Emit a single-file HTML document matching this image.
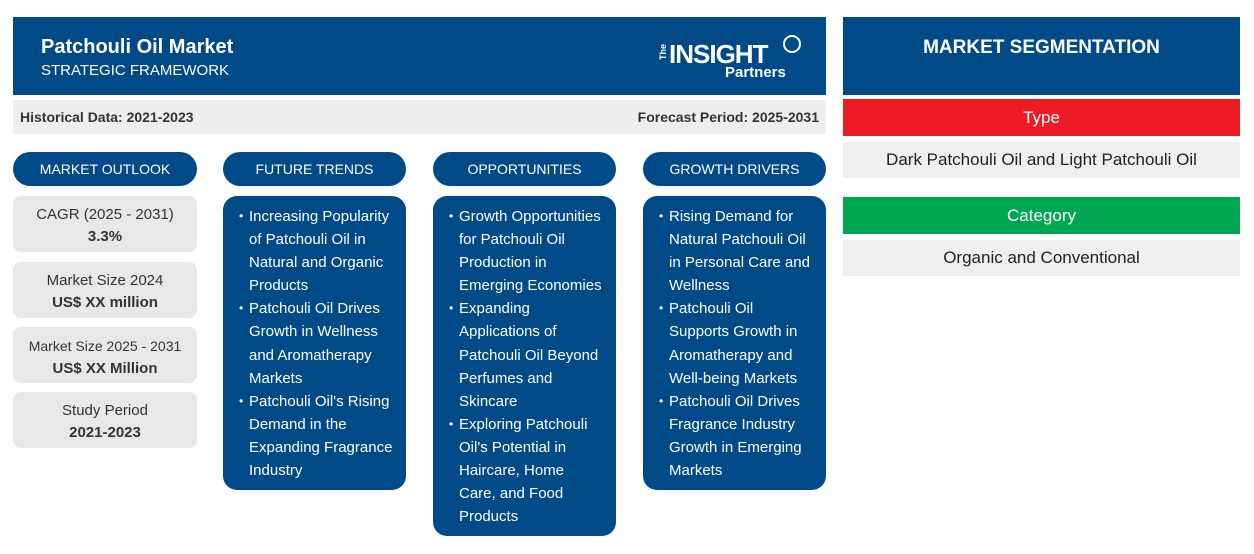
<!DOCTYPE html>
<html><head><style>
body{margin:0;width:1254px;height:554px;background:#fff;font-family:"Liberation Sans",Arial,sans-serif;position:relative;overflow:hidden}
div{position:absolute;box-sizing:border-box}
.nv{background:#004a87;color:#fff}
.pill{top:152px;height:34px;border-radius:17px;text-align:center;line-height:34px;font-size:14px;color:#fff;background:#004a87}
.g{background:#e8e8e8;border-radius:8px;text-align:center;color:#333;font-size:15px;left:13px;width:184px;height:56px;padding-top:8px;line-height:22px}
.g b{font-size:15px}
.bl{background:#004a87;border-radius:14px;color:#fff;font-size:15px;line-height:23.1px;top:196px;padding:9px 12px 0 16px}
.bl ul{margin:0;padding:0 0 0 10px;list-style:none}
.bl li{position:relative}
.bl li:before{content:"•";position:absolute;left:-10px;font-size:12px}
</style></head><body>
<div class="nv" style="left:13px;top:17px;width:813px;height:78px">
<div style="left:28px;top:19px;font-size:20px;font-weight:bold">Patchouli Oil Market</div>
<div style="left:28px;top:45px;font-size:15px">STRATEGIC FRAMEWORK</div>
<div style="left:656px;top:22px;font-size:26px;font-weight:bold;letter-spacing:-1px">INSIGHT</div>
<div style="left:642px;top:30px;font-size:9px;font-weight:bold;transform:rotate(-90deg)">The</div>
<div style="left:712px;top:47px;font-size:15px;font-weight:bold">Partners</div>
<div style="left:770px;top:18px;width:18px;height:18px;border:2px solid #fff;border-radius:50%"></div>
</div>
<div style="left:13px;top:100px;width:813px;height:34px;background:#eeeeee;font-size:14px;font-weight:bold;color:#333;line-height:34px;padding:0 7px">Historical Data: 2021-2023<span style="position:absolute;right:7px">Forecast Period: 2025-2031</span></div>
<div class="pill" style="left:13px;width:184px">MARKET OUTLOOK</div>
<div class="pill" style="left:223px;width:183px">FUTURE TRENDS</div>
<div class="pill" style="left:433px;width:183px">OPPORTUNITIES</div>
<div class="pill" style="left:643px;width:183px">GROWTH DRIVERS</div>
<div class="g" style="top:196px">CAGR (2025 - 2031)<br><b>3.3%</b></div>
<div class="g" style="top:262px">Market Size 2024<br><b>US$ XX million</b></div>
<div class="g" style="top:327px;font-size:14px">Market Size 2025 - 2031<br><b>US$ XX Million</b></div>
<div class="g" style="top:392px">Study Period<br><b>2021-2023</b></div>
<div class="bl" style="left:223px;width:183px;height:294px"><ul><li>Increasing Popularity of Patchouli Oil in Natural and Organic Products</li><li>Patchouli Oil Drives Growth in Wellness and Aromatherapy Markets</li><li>Patchouli Oil's Rising Demand in the Expanding Fragrance Industry</li></ul></div>
<div class="bl" style="left:433px;width:183px;height:340px"><ul><li>Growth Opportunities for Patchouli Oil Production in Emerging Economies</li><li>Expanding Applications of Patchouli Oil Beyond Perfumes and Skincare</li><li>Exploring Patchouli Oil's Potential in Haircare, Home Care, and Food Products</li></ul></div>
<div class="bl" style="left:643px;width:183px;height:294px"><ul><li>Rising Demand for Natural Patchouli Oil in Personal Care and Wellness</li><li>Patchouli Oil Supports Growth in Aromatherapy and Well-being Markets</li><li>Patchouli Oil Drives Fragrance Industry Growth in Emerging Markets</li></ul></div>
<div class="nv" style="left:843px;top:17px;width:397px;height:78px;text-align:center;font-size:19px;font-weight:bold;padding-top:20px">MARKET SEGMENTATION</div>
<div style="left:843px;top:99px;width:397px;height:37px;background:#ed1c24;color:#fff;text-align:center;line-height:37px;font-size:17px">Type</div>
<div style="left:843px;top:142px;width:397px;height:36px;background:#efefef;color:#222;text-align:center;line-height:36px;font-size:17px">Dark Patchouli Oil and Light Patchouli Oil</div>
<div style="left:843px;top:197px;width:397px;height:37px;background:#00a651;color:#fff;text-align:center;line-height:37px;font-size:17px">Category</div>
<div style="left:843px;top:240px;width:397px;height:36px;background:#efefef;color:#222;text-align:center;line-height:36px;font-size:17px">Organic and Conventional</div>
</body></html>
